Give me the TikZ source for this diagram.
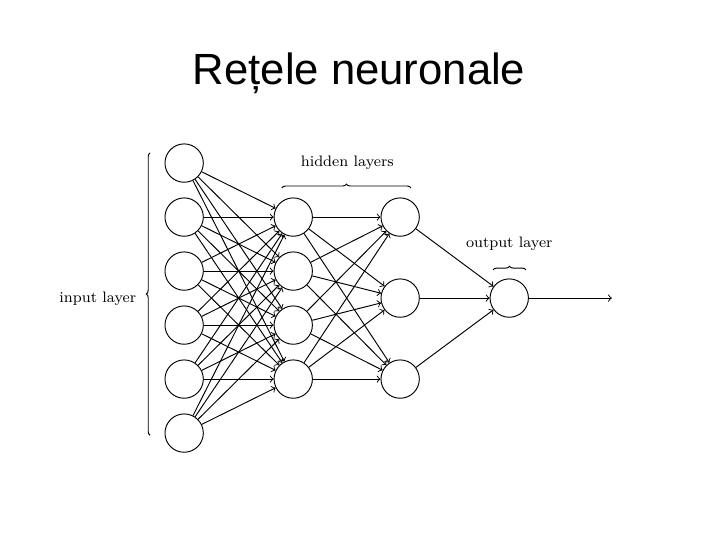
\documentclass[tikz,border=0pt]{standalone}
\usepackage{fontspec}
\newfontfamily\titlefont{Liberation Sans}
\usetikzlibrary{decorations.pathreplacing}
\begin{document}
\begin{tikzpicture}[line width=0.5pt,
  neuron/.style={circle,draw,minimum size=0.71cm,inner sep=0pt},
  layerbrace/.style={decorate,decoration={brace,amplitude=2pt}},
  layerlabel/.style={font=\fontsize{8}{10}\selectfont}]
\useasboundingbox (0,0) rectangle (13.333,-10);
\node (title) [anchor=base] at (6.65,-1.574) {\titlefont\fontsize{23}{28}\selectfont Rețele neuronale};
% layers
\foreach \i in {1,...,6}
  \node (in\i) [neuron] at (3.41,-2.02-\i) {};
\foreach \j in {1,...,4}
  \node (hida\j) [neuron] at (5.43,-3.02-\j) {};
\foreach \k/\y in {1/-4.02,2/-5.52,3/-7.02}
  \node (hidb\k) [neuron] at (7.41,\y) {};
\node (out) [neuron] at (9.43,-5.52) {};
\coordinate (outend) at (11.33,-5.52);
% connections
\foreach \i in {1,...,6}
  \foreach \j in {1,...,4}
    \draw [->] (in\i) -- (hida\j);
\foreach \j in {1,...,4}
  \foreach \k in {1,...,3}
    \draw [->] (hida\j) -- (hidb\k);
\foreach \k in {1,...,3}
  \draw [->] (hidb\k) -- (out);
\draw [->] (out) -- (outend);
% braces and labels
\draw [layerbrace] (2.78,-8.06) -- (2.78,-2.83);
\node (inlabel) [layerlabel] at (1.81,-5.54) {input layer};
\draw [layerbrace] (5.22,-3.48) -- (7.61,-3.48);
\node (hidlabel) [layerlabel] at (6.43,-3.02) {hidden layers};
\draw [layerbrace] (9.13,-5.0) -- (9.74,-5.0);
\node (outlabel) [layerlabel] at (9.43,-4.52) {output layer};
\end{tikzpicture}
\end{document}
